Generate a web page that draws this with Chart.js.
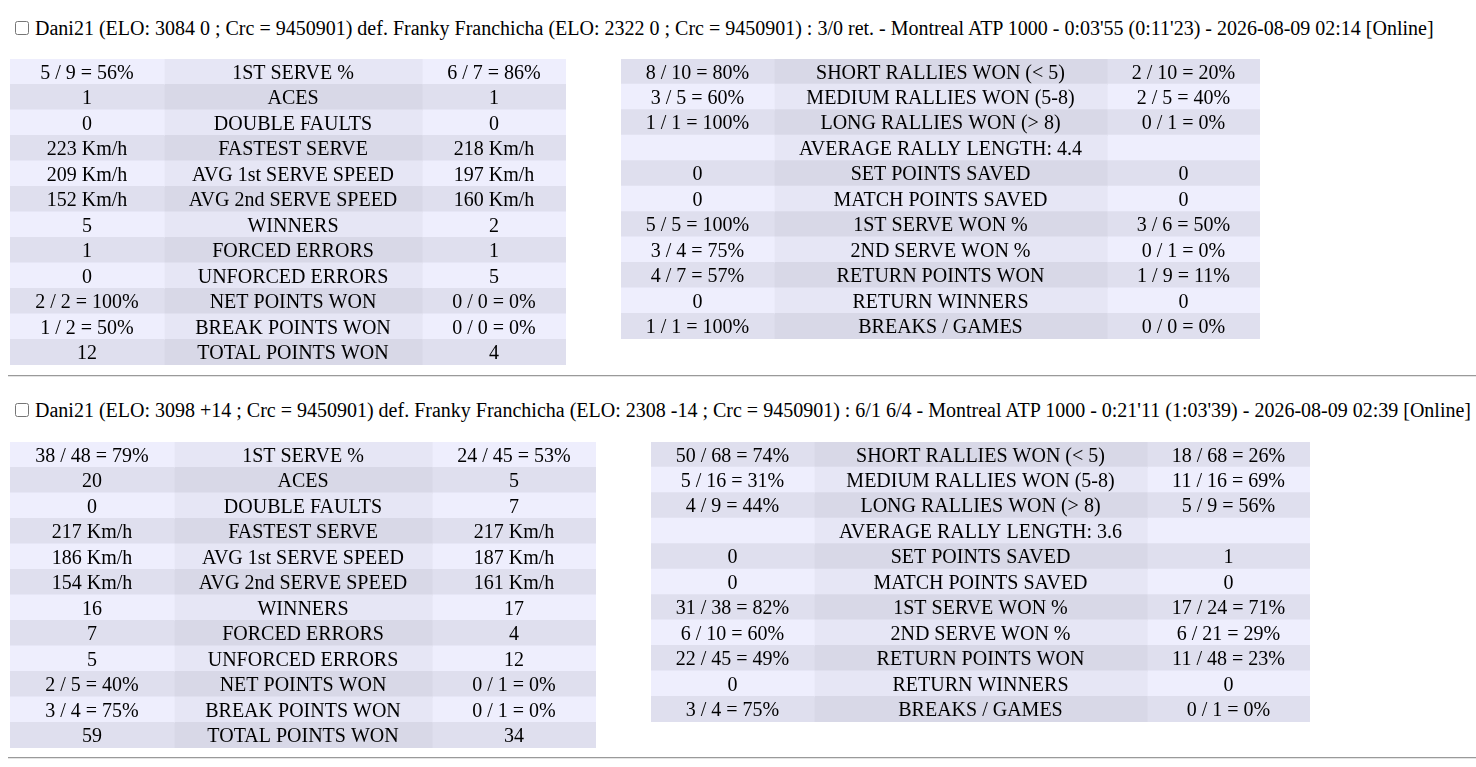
<!DOCTYPE html>
<html>
<head>
<meta charset="utf-8">
<script src="https://cdn.jsdelivr.net/npm/chart.js@4/dist/chart.umd.min.js"></script>
<style>
  html, body { margin:0; padding:0; background:#fff; width:1476px; height:767px; overflow:hidden; }
  .hdr { position:absolute; left:15px; font-family:"Liberation Serif", "Times New Roman", serif; font-size:20px; line-height:22px; color:#000; white-space:nowrap; }
  .hdr input { position:absolute; left:0; top:4px; width:14px; height:14px; margin:0; }
  .hdr span { position:absolute; left:20px; top:0; }
  .hr { position:absolute; left:8px; right:0; height:0; border-top:1px solid #9a9a9a; border-bottom:1px solid #e4e4e4; }
  .tbl { position:absolute; }
  .probe { position:absolute; left:-9999px; font-family:"Liberation Serif"; }
</style>
</head>
<body>
<div class="probe">probe</div>
<script>
// ---------- DATA ----------
const headers = [
  "Dani21 (ELO: 3084 0 ; Crc = 9450901) def. Franky Franchicha (ELO: 2322 0 ; Crc = 9450901) : 3/0 ret. - Montreal ATP 1000 - 0:03'55 (0:11'23) - 2026-08-09 02:14 [Online]",
  "Dani21 (ELO: 3098 +14 ; Crc = 9450901) def. Franky Franchicha (ELO: 2308 -14 ; Crc = 9450901) : 6/1 6/4 - Montreal ATP 1000 - 0:21'11 (1:03'39) - 2026-08-09 02:39 [Online]"
];

const serveStats = ['1ST SERVE %','ACES','DOUBLE FAULTS','FASTEST SERVE','AVG 1st SERVE SPEED','AVG 2nd SERVE SPEED','WINNERS','FORCED ERRORS','UNFORCED ERRORS','NET POINTS WON','BREAK POINTS WON','TOTAL POINTS WON'];
const rallyStats1 = ['SHORT RALLIES WON (< 5)','MEDIUM RALLIES WON (5-8)','LONG RALLIES WON (> 8)','AVERAGE RALLY LENGTH: 4.4','SET POINTS SAVED','MATCH POINTS SAVED','1ST SERVE WON %','2ND SERVE WON %','RETURN POINTS WON','RETURN WINNERS','BREAKS / GAMES'];
const rallyStats2 = ['SHORT RALLIES WON (< 5)','MEDIUM RALLIES WON (5-8)','LONG RALLIES WON (> 8)','AVERAGE RALLY LENGTH: 3.6','SET POINTS SAVED','MATCH POINTS SAVED','1ST SERVE WON %','2ND SERVE WON %','RETURN POINTS WON','RETURN WINNERS','BREAKS / GAMES'];

const m1ServeP1 = ['5 / 9 = 56%','1','0','223 Km/h','209 Km/h','152 Km/h','5','1','0','2 / 2 = 100%','1 / 2 = 50%','12'];
const m1ServeP2 = ['6 / 7 = 86%','1','0','218 Km/h','197 Km/h','160 Km/h','2','1','5','0 / 0 = 0%','0 / 0 = 0%','4'];
const m1RallyP1 = ['8 / 10 = 80%','3 / 5 = 60%','1 / 1 = 100%','','0','0','5 / 5 = 100%','3 / 4 = 75%','4 / 7 = 57%','0','1 / 1 = 100%'];
const m1RallyP2 = ['2 / 10 = 20%','2 / 5 = 40%','0 / 1 = 0%','','0','0','3 / 6 = 50%','0 / 1 = 0%','1 / 9 = 11%','0','0 / 0 = 0%'];

const m2ServeP1 = ['38 / 48 = 79%','20','0','217 Km/h','186 Km/h','154 Km/h','16','7','5','2 / 5 = 40%','3 / 4 = 75%','59'];
const m2ServeP2 = ['24 / 45 = 53%','5','7','217 Km/h','187 Km/h','161 Km/h','17','4','12','0 / 1 = 0%','0 / 1 = 0%','34'];
const m2RallyP1 = ['50 / 68 = 74%','5 / 16 = 31%','4 / 9 = 44%','','0','0','31 / 38 = 82%','6 / 10 = 60%','22 / 45 = 49%','0','3 / 4 = 75%'];
const m2RallyP2 = ['18 / 68 = 26%','11 / 16 = 69%','5 / 9 = 56%','','1','0','17 / 24 = 71%','6 / 21 = 29%','11 / 48 = 23%','0','0 / 1 = 0%'];

// ---------- LAYOUT / STYLE ----------
const FONT = '20px "Liberation Serif"';
const COLORS = {
  lightOuter: '#eeeefd', lightMid: '#e6e6f5',
  darkOuter:  '#dfdfee', darkMid:  '#d8d8e7'
};
const headerTops = [17, 399];
const hrTops = [375, 757];
const tables = [
  { x:10,  y:59,  cols:[154,258,144], h:306, labels:serveStats,  p1:m1ServeP1, p2:m1ServeP2, startLight:true },
  { x:621, y:59,  cols:[153,333,153], h:280, labels:rallyStats1, p1:m1RallyP1, p2:m1RallyP2, startLight:false },
  { x:10,  y:442, cols:[164,258,164], h:306, labels:serveStats,  p1:m2ServeP1, p2:m2ServeP2, startLight:true },
  { x:651, y:442, cols:[163,333,163], h:280, labels:rallyStats2, p1:m2RallyP1, p2:m2RallyP2, startLight:false }
];

// ---------- HEADERS & RULES ----------
headers.forEach((t, i) => {
  const d = document.createElement('div');
  d.className = 'hdr';
  d.style.top = headerTops[i] + 'px';
  const cb = document.createElement('input'); cb.type = 'checkbox';
  const s = document.createElement('span'); s.textContent = t;
  d.appendChild(cb); d.appendChild(s);
  document.body.appendChild(d);
});
hrTops.forEach(t => {
  const h = document.createElement('div');
  h.className = 'hr'; h.style.top = t + 'px';
  document.body.appendChild(h);
});

// ---------- CELL TEXT PLUGIN ----------
const cellText = {
  id: 'cellText',
  afterDatasetsDraw(chart) {
    const ctx = chart.ctx;
    const texts = chart.options.plugins.cellText.texts;
    ctx.save();
    ctx.font = FONT;
    ctx.fillStyle = '#000';
    ctx.textAlign = 'center';
    ctx.textBaseline = 'alphabetic';
    chart.data.datasets.forEach((ds, di) => {
      const meta = chart.getDatasetMeta(di);
      meta.data.forEach((bar, j) => {
        const p = bar.getProps(['x', 'y', 'base'], true);
        const t = texts[di][j];
        if (t) ctx.fillText(t, (p.x + p.base) / 2, p.y + 6.8);
      });
    });
    ctx.restore();
  }
};

// ---------- TABLES ----------
function buildTables() {
  tables.forEach(tb => {
    const total = tb.cols.reduce((a, b) => a + b, 0);
    const wrap = document.createElement('div');
    wrap.className = 'tbl';
    wrap.style.left = tb.x + 'px';
    wrap.style.top = tb.y + 'px';
    wrap.style.width = total + 'px';
    wrap.style.height = tb.h + 'px';
    const cv = document.createElement('canvas');
    wrap.appendChild(cv);
    document.body.appendChild(wrap);

    const isLight = i => (i % 2 === 0) === tb.startLight;
    const colorFor = (col) => (c) => {
      const light = isLight(c.dataIndex);
      if (col === 1) return light ? COLORS.lightMid : COLORS.darkMid;
      return light ? COLORS.lightOuter : COLORS.darkOuter;
    };

    new Chart(cv, {
      type: 'bar',
      data: {
        labels: tb.labels,
        datasets: tb.cols.map((w, ci) => ({
          label: ['P1', 'Stat', 'P2'][ci],
          data: tb.labels.map(() => w),
          backgroundColor: colorFor(ci),
          borderWidth: 0,
          inflateAmount: 0.6,
          barPercentage: 1,
          categoryPercentage: 1
        }))
      },
      options: {
        indexAxis: 'y',
        responsive: true,
        maintainAspectRatio: false,
        animation: false,
        layout: { padding: 0 },
        events: [],
        plugins: {
          legend: { display: false },
          tooltip: { enabled: false },
          cellText: { texts: [tb.p1, tb.labels, tb.p2] }
        },
        scales: {
          x: { stacked: true, display: false, min: 0, max: total },
          y: { stacked: true, display: false }
        }
      },
      plugins: [cellText]
    });
  });
}
if (document.fonts && document.fonts.load) {
  document.fonts.load(FONT).then(buildTables, buildTables);
} else {
  buildTables();
}
</script>
</body>
</html>
